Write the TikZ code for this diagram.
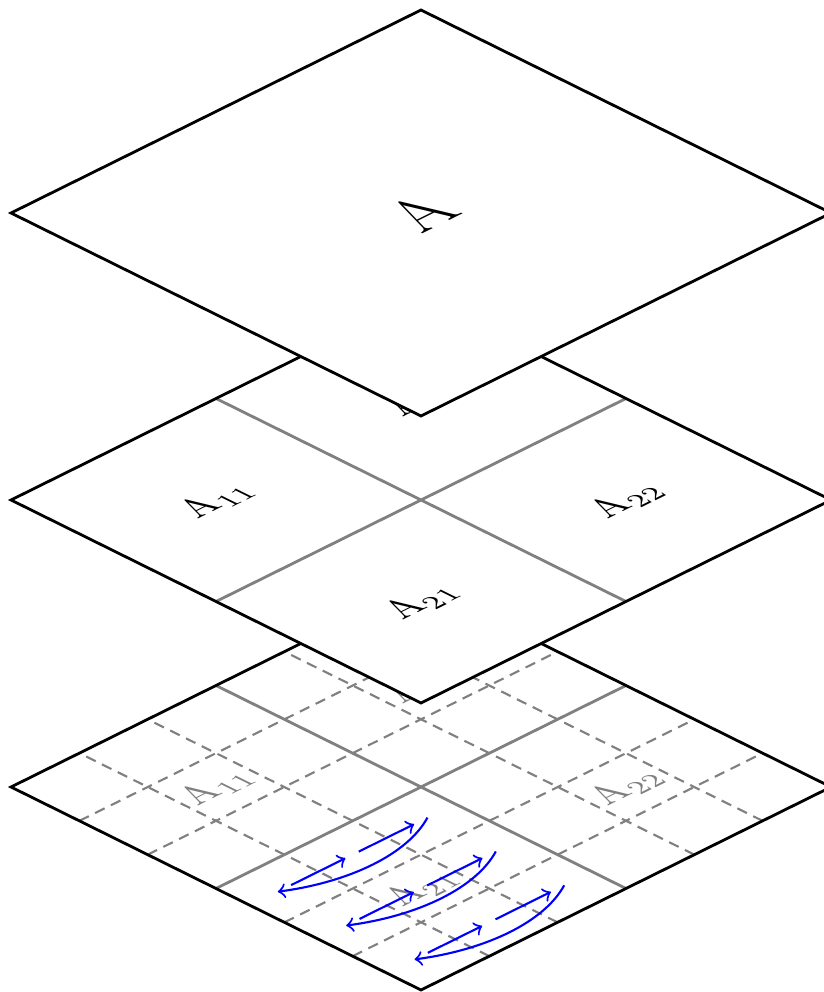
\documentclass[tikz,border=0pt]{standalone}
\usepackage{amsmath, amssymb}
\begin{document}
\begin{tikzpicture}[x=1cm,y=1cm]
    % Three stacked layers of a 2x2 block matrix, seen from an oblique angle.
    % Each layer is a square in its own plane, mapped by a cm transformation.

    \tikzset{
      outline/.style={thick},
      split/.style={gray, thick},
      subsplit/.style={gray, semithick, dash pattern=on 3pt off 2pt},
      trav/.style={->, blue, semithick},
      label/.style={font=\normalsize}
    }

    \useasboundingbox (0,0) rectangle (8.24,9.92);

    % --- Bottom layer: every block split 3x3, with the sweep through A21
    \begin{scope}[shift={(4.21,2.05)}, cm={1.025,0.5075,-1.025,0.5075,(0,0)}, transform shape]
      \fill[white] (-2,-2) -- (2,-2) -- (2,2) -- (-2,2) -- cycle;
      \foreach \k in {-1.333,-0.667,0.667,1.333} {
        \draw[subsplit] (\k,-2) -- (\k,2);
        \draw[subsplit] (-2,\k) -- (2,\k);
      }
      \draw[split] (0,-2) -- (0,2);
      \draw[split] (-2,0) -- (2,0);
      \node[label, gray] (bot11) at (-1,1) {A$_{11}$};
      \node[label, gray] (bot12) at (1,1) {A$_{12}$};
      \node[label, gray] (bot21) at (-1,-1) {A$_{21}$};
      \node[label, gray] (bot22) at (1,-1) {A$_{22}$};
      \foreach \j in {-0.333,-1,-1.667} {
        \draw[trav] (-1.6,\j) -- (-1.07,\j);
        \draw[trav] (-0.94,\j) -- (-0.4,\j);
        \draw[trav] (-0.27,\j) .. controls (-0.72,{\j-0.26}) and (-1.28,{\j-0.26}) .. (-1.73,\j);
      }
      \draw[outline] (-2,-2) -- (2,-2) -- (2,2) -- (-2,2) -- cycle;
    \end{scope}

    % --- Middle layer: 2x2 blocks
    \begin{scope}[shift={(4.21,4.92)}, cm={1.025,0.5075,-1.025,0.5075,(0,0)}, transform shape]
      \fill[white] (-2,-2) -- (2,-2) -- (2,2) -- (-2,2) -- cycle;
      \draw[split] (0,-2) -- (0,2);
      \draw[split] (-2,0) -- (2,0);
      \node[label] (mid11) at (-1,1) {A$_{11}$};
      \node[label] (mid12) at (1,1) {A$_{12}$};
      \node[label] (mid21) at (-1,-1) {A$_{21}$};
      \node[label] (mid22) at (1,-1) {A$_{22}$};
      \draw[outline] (-2,-2) -- (2,-2) -- (2,2) -- (-2,2) -- cycle;
    \end{scope}

    % --- Top layer: the whole matrix
    \begin{scope}[shift={(4.21,7.79)}, cm={1.025,0.5075,-1.025,0.5075,(0,0)}, transform shape]
      \fill[white] (-2,-2) -- (2,-2) -- (2,2) -- (-2,2) -- cycle;
      \node[font=\LARGE] (whole) at (0,0) {A};
      \draw[outline] (-2,-2) -- (2,-2) -- (2,2) -- (-2,2) -- cycle;
    \end{scope}
\end{tikzpicture}
\end{document}
